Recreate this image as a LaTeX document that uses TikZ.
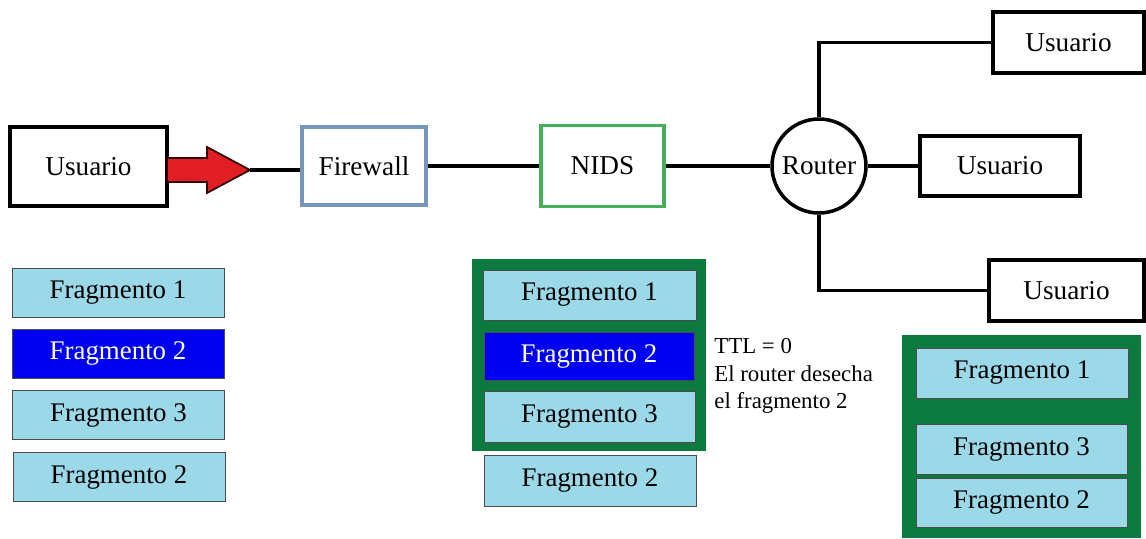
\documentclass[tikz,border=0pt]{standalone}
\usepackage{fontspec}
\setmainfont{Liberation Serif}
\usetikzlibrary{positioning}

\definecolor{fragcyan}{RGB}{155,216,232}
\definecolor{fraglost}{RGB}{0,0,240}
\definecolor{bufgreen}{RGB}{12,122,62}
\definecolor{fwblue}{RGB}{120,150,185}
\definecolor{nidsgreen}{RGB}{70,175,90}
\definecolor{arrowred}{RGB}{225,30,35}

\tikzset{
  box/.style={draw, line width=2pt, inner sep=0pt, font=\fontsize{15.5}{18}\selectfont},
  frag/.style={draw=gray!60!black, line width=0.5pt, fill=fragcyan, inner sep=0pt,
    minimum width=4.24cm, minimum height=0.98cm, font=\fontsize{15.3}{18}\selectfont},
  lost/.style={frag, fill=fraglost, text=white},
  buffer/.style={fill=bufgreen, inner sep=0pt},
  link/.style={line width=2pt},
}

\begin{document}
\begin{tikzpicture}[x=0.02cm, y=-0.02cm]

    \useasboundingbox (0,0) rectangle (1146,538);

    % main row
    \node[box, minimum width=3.14cm, minimum height=1.58cm] (user) at (88.5,166.5) {Usuario};
    \node[box, draw=fwblue, minimum width=2.48cm, minimum height=1.56cm] (fw) at (364,166) {Firewall};
    \node[box, draw=nidsgreen, minimum width=2.46cm, minimum height=1.62cm] (nids) at (602.5,166) {NIDS};
    \node[box, circle, minimum size=1.88cm] (router) at (819,166) {Router};

    % users behind the router
    \node[box, minimum width=3.02cm, minimum height=1.22cm] (usera) at (1068.5,42.5) {Usuario};
    \node[box, minimum width=3.2cm, minimum height=1.2cm] (userb) at (1000,166) {Usuario};
    \node[box, minimum width=3.1cm, minimum height=1.22cm] (userc) at (1066.5,290.5) {Usuario};

    % red arrow
    \draw[fill=arrowred, draw=black!80!red, line width=1pt]
        (167,158) -- (207,158) -- (207,147) -- (250,170) -- (207,193) -- (207,182) -- (167,182) -- cycle;
    \coordinate (tip) at (250,170);

    \draw[link] (tip) -- (tip -| fw.west);
    \draw[link] (fw.east) -- (nids.west);
    \draw[link] (nids.east) -- (router.west);
    \draw[link] (router.north) |- (usera.west);
    \draw[link] (router.east) -- (userb.west);
    \draw[link] (router.south) |- (userc.west);

    % fragments sent
    \node[frag] (sa) at (118,292.5) {Fragmento 1};
    \node[lost] (sb) at (118,353.5) {Fragmento 2};
    \node[frag] (sc) at (118.5,415) {Fragmento 3};
    \node[frag] (sd) at (119,477) {Fragmento 2};

    % fragments at the NIDS
    \node[buffer, minimum width=4.68cm, minimum height=3.84cm] (nidsbuf) at (589,355) {};
    \node[frag, minimum width=4.26cm, minimum height=1cm] (na) at (589.5,295) {Fragmento 1};
    \node[lost, minimum width=4.2cm, minimum height=0.96cm] (nb) at (589,356) {Fragmento 2};
    \node[frag, minimum width=4.22cm, minimum height=1.02cm] (nc) at (589.5,416.5) {Fragmento 3};
    \node[frag, minimum width=4.24cm, minimum height=1.02cm] (nd) at (590,480.5) {Fragmento 2};

    \node[anchor=west, align=left, inner sep=0pt, font=\fontsize{13}{15.6}\selectfont]
        (ttl) at (714,376) {TTL = 0\\El router desecha\\el fragmento 2};

    % fragments at the user
    \node[buffer, minimum width=4.78cm, minimum height=4.06cm] (userbuf) at (1021.5,436.5) {};
    \node[frag, minimum width=4.24cm, minimum height=1cm] (ra) at (1022,373) {Fragmento 1};
    \node[frag, minimum width=4.22cm, minimum height=1cm] (rc) at (1021.5,449) {Fragmento 3};
    \node[frag, minimum width=4.22cm, minimum height=0.98cm] (rd) at (1021.5,502.5) {Fragmento 2};

\end{tikzpicture}
\end{document}
